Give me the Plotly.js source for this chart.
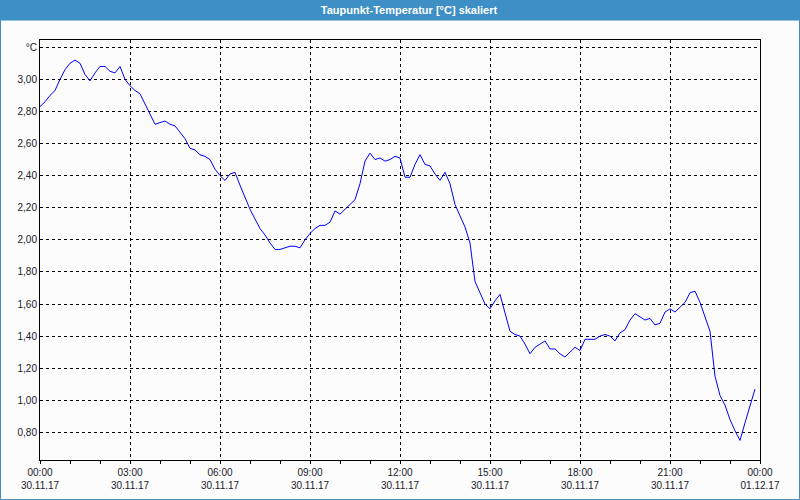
<!DOCTYPE html>
<html>
<head>
<meta charset="utf-8">
<script src="https://cdn.plot.ly/plotly-3.0.1.min.js"></script>
<style>
html,body{margin:0;padding:0;background:#fbfcfb;}
#chart{width:800px;height:500px;}
</style>
</head>
<body>
<div id="chart"></div>
<script>
// Sampling times (30.11.17, every 10 minutes)
const day = "2017-11-30";
const times = [
"00:00","00:10","00:20","00:30","00:40","00:50","01:00","01:10","01:20","01:30","01:40","01:50",
"02:00","02:10","02:20","02:30","02:40","02:50","03:00","03:10","03:20","03:30","03:40","03:50",
"04:00","04:10","04:20","04:30","04:40","04:50","05:00","05:10","05:20","05:30","05:40","05:50",
"06:00","06:10","06:20","06:30","06:40","06:50","07:00","07:10","07:20","07:30","07:40","07:50",
"08:00","08:10","08:20","08:30","08:40","08:50","09:00","09:10","09:20","09:30","09:40","09:50",
"10:00","10:10","10:20","10:30","10:40","10:50","11:00","11:10","11:20","11:30","11:40","11:50",
"12:00","12:10","12:20","12:30","12:40","12:50","13:00","13:10","13:20","13:30","13:40","13:50",
"14:00","14:10","14:20","14:30","14:40","14:50","15:00","15:10","15:20","15:30","15:40","15:50",
"16:00","16:10","16:20","16:30","16:40","16:50","17:00","17:10","17:20","17:30","17:40","17:50",
"18:00","18:10","18:20","18:30","18:40","18:50","19:00","19:10","19:20","19:30","19:40","19:50",
"20:00","20:10","20:20","20:30","20:40","20:50","21:00","21:10","21:20","21:30","21:40","21:50",
"22:00","22:10","22:20","22:30","22:40","22:50","23:00","23:10","23:20","23:30","23:40","23:50"
];
// Dew point temperature [°C]
const dewPoint = [
2.83,2.86,2.90,2.93,3.00,3.06,3.10,3.12,3.10,3.03,2.99,3.04,
3.08,3.08,3.05,3.04,3.08,3.00,2.96,2.93,2.91,2.85,2.78,2.72,
2.73,2.74,2.72,2.71,2.67,2.63,2.57,2.56,2.53,2.52,2.50,2.44,
2.40,2.37,2.41,2.42,2.34,2.26,2.19,2.13,2.07,2.03,1.98,1.94,
1.94,1.95,1.96,1.96,1.95,2.00,2.04,2.07,2.09,2.09,2.11,2.18,
2.16,2.19,2.22,2.25,2.35,2.49,2.54,2.50,2.51,2.49,2.50,2.52,
2.51,2.39,2.39,2.47,2.53,2.47,2.46,2.41,2.37,2.42,2.35,2.22,
2.15,2.08,1.98,1.74,1.67,1.60,1.57,1.62,1.66,1.54,1.43,1.41,
1.40,1.35,1.29,1.33,1.35,1.37,1.32,1.32,1.29,1.27,1.30,1.33,
1.31,1.38,1.38,1.38,1.40,1.41,1.40,1.37,1.42,1.44,1.50,1.54,
1.52,1.50,1.51,1.47,1.48,1.55,1.57,1.55,1.58,1.61,1.67,1.68,
1.61,1.52,1.43,1.15,1.03,0.97,0.88,0.81,0.75,0.86,0.97,1.07
];
// X tick labels
const xTickVals = ["2017-11-30 00:00","2017-11-30 03:00","2017-11-30 06:00","2017-11-30 09:00","2017-11-30 12:00","2017-11-30 15:00","2017-11-30 18:00","2017-11-30 21:00","2017-12-01 00:00"];
const xTickTimes = ["00:00","03:00","06:00","09:00","12:00","15:00","18:00","21:00","00:00"];
const xTickDates = ["30.11.17","30.11.17","30.11.17","30.11.17","30.11.17","30.11.17","30.11.17","30.11.17","01.12.17"];
// Y tick labels
const yTickVals = [0.8,1.0,1.2,1.4,1.6,1.8,2.0,2.2,2.4,2.6,2.8,3.0,3.2];
const yTickText = ["0,80","1,00","1,20","1,40","1,60","1,80","2,00","2,20","2,40","2,60","2,80","3,00","°C"];
const chartTitle = "Taupunkt-Temperatur [°C] skaliert";

const W = 800, H = 500, mL = 40, mR = 40, mT = 40, mB = 40;
const pw = W - mL - mR, ph = H - mT - mB;
const px = v => (v - mL) / pw;
const py = v => (H - mB - v) / ph;

const trace = {
  x: times.map(t => day + " " + t),
  y: dewPoint,
  type: "scatter",
  mode: "lines",
  line: {color: "#0000ff", width: 1},
  hoverinfo: "skip"
};

const layout = {
  width: W, height: H,
  margin: {l: mL, r: mR, t: mT, b: mB, pad: 0},
  paper_bgcolor: "#fbfcfb",
  plot_bgcolor: "#fbfcfb",
  showlegend: false,
  font: {family: "Liberation Sans, Arial, sans-serif", size: 10, color: "#1a1a2a"},
  title: {
    text: chartTitle,
    font: {family: "Liberation Sans, Arial, sans-serif", size: 11, color: "#ffffff", weight: "bold"},
    x: px(409), xref: "paper", xanchor: "center",
    y: 1 - 10 / H, yref: "container", yanchor: "middle"
  },
  xaxis: {
    type: "date",
    range: ["2017-11-30 00:00", "2017-12-01 00:00"],
    tickvals: xTickVals,
    ticktext: xTickTimes.map((t, i) => t + "<br>" + xTickDates[i]),
    ticks: "outside", ticklen: 3, tickcolor: "#000", tickwidth: 1,
    minor: {dtick: 3600000, ticks: "outside", ticklen: 3, tickcolor: "#000", showgrid: false},
    showgrid: true, gridcolor: "#000", gridwidth: 1, griddash: "3px,3px",
    showline: true, linecolor: "#000", linewidth: 1, mirror: true,
    zeroline: false, fixedrange: true,
    tickfont: {size: 10, color: "#1a1a2a"}
  },
  yaxis: {
    range: [0.628, 3.245],
    tickvals: yTickVals,
    ticktext: yTickText,
    ticks: "",
    showgrid: true, gridcolor: "#000", gridwidth: 1, griddash: "3px,3px",
    showline: true, linecolor: "#000", linewidth: 1, mirror: true,
    zeroline: false, fixedrange: true,
    tickfont: {size: 10, color: "#1a1a2a"}
  },
  shapes: [
    {type: "rect", xref: "paper", yref: "paper", layer: "below",
     x0: px(0), x1: px(W), y0: py(0), y1: py(20),
     fillcolor: "#3d8fc6", line: {width: 0}},
    {type: "rect", xref: "paper", yref: "paper", layer: "below",
     x0: px(0.5), x1: px(W - 0.5), y0: py(20), y1: py(H - 0.5),
     fillcolor: "rgba(0,0,0,0)", line: {color: "#3d8fc6", width: 1}}
  ]
};

Plotly.newPlot("chart", [trace], layout, {displayModeBar: false, staticPlot: true});
</script>
</body>
</html>
